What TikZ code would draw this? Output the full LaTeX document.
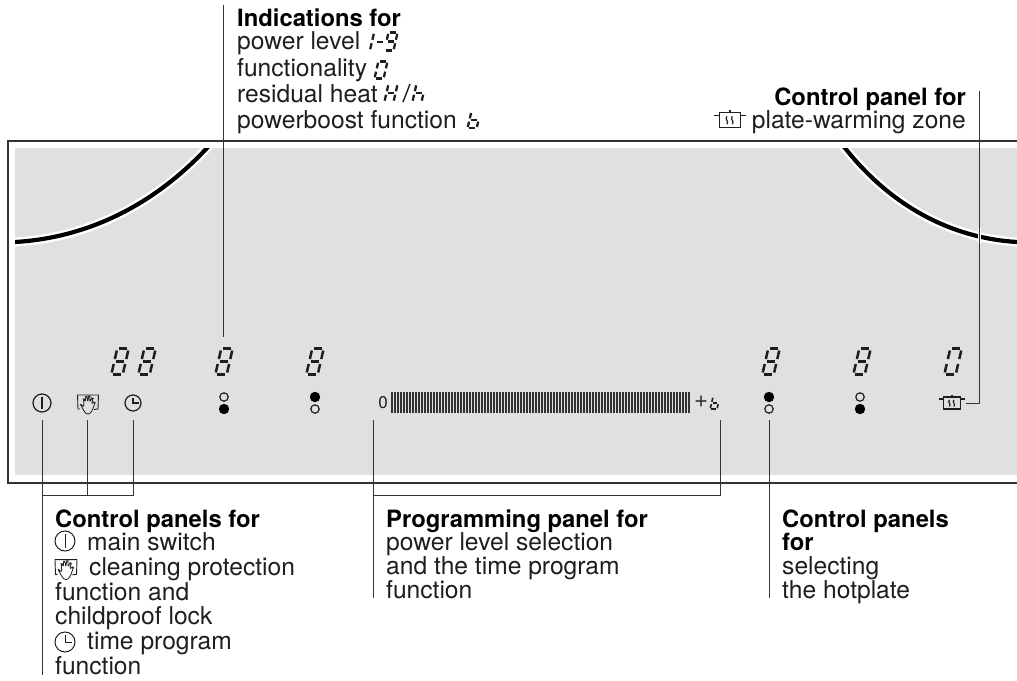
\documentclass[tikz,border=0pt]{standalone}
\usepackage{fontspec}
\setmainfont{TeX Gyre Heros}
\definecolor{panelgray}{HTML}{DFE1E0}
\definecolor{inkc}{HTML}{1E1E1E}
\definecolor{linec}{HTML}{333333}
\tikzset{
  lbl/.style={inner sep=0pt,anchor=base west,text=inkc,font=\fontsize{24.6}{25}\selectfont},
  lblb/.style={inner sep=0pt,anchor=base west,text=black,font=\fontsize{23.8}{25}\selectfont\bfseries},
  frameline/.style={draw=linec,line width=1.2pt},
  conn/.style={draw=linec,line width=1pt},
  seg/.style={draw=inkc,line width=2.5pt},
  icon/.style={draw=inkc,line width=1.2pt},
  halo/.style={white,line width=9pt},
  ring/.style={black,line width=4.2pt},
}
\def\sga{\draw[seg] (-4,-13)--(4,-13);}
\def\sgb{\draw[seg] (5.7,-11)--(5.7,-2.5);}
\def\sgc{\draw[seg] (5.7,2.5)--(5.7,11);}
\def\sgd{\draw[seg] (-4,13)--(4,13);}
\def\sge{\draw[seg] (-5.7,2.5)--(-5.7,11);}
\def\sgf{\draw[seg] (-5.7,-11)--(-5.7,-2.5);}
\def\sgg{\draw[seg] (-4,0)--(4,0);}
% big panel digit
\newcommand\segdigit[3]{\begin{scope}[shift={(#1,#2)},xslant=.23]
  \foreach \s in {#3} {\csname sg\s\endcsname}\end{scope}}
% small digit inside a line of text: x y xscale yscale line-width segments
\newcommand\smalldigit[6]{\begin{scope}[shift={(#1,#2)},xslant=.23,xscale=#3,yscale=#4,seg/.append style={line width=#5}]
  \foreach \s in {#6} {\csname sg\s\endcsname}\end{scope}}
\newcommand\powericon[4]{\begin{scope}[shift={(#1,#2)}]
  \draw[icon,line width=#4] (0,0) circle (#3);
  \draw[icon,line width=#4] (0,-#3*0.72)--(0,#3*0.72);\end{scope}}
\newcommand\clockicon[4]{\begin{scope}[shift={(#1,#2)}]
  \draw[icon,line width=#4] (0,0) circle (#3);
  \draw[icon,line width=#4] (0,-#3*0.68)--(0,0)--(#3*0.72,0);\end{scope}}
\newcommand\handicon[4]{\begin{scope}[shift={(#1,#2)},scale=#3]
  \draw[icon,line width=.9pt] (-8,6)--(-10,6)--(-10.5,-8)--(10.5,-8)--(10,6)--(6,6.5);
  \draw[icon,line width=.8pt,fill=#4,rounded corners=1.2pt] (-8,0.5)--(-4,4)--(-4.5,-4)--(-3.5,-4)--(-2.6,-1)--(-2.3,-6.5)--(-1,-6.5)--(-0.3,-1)--(0.8,-7)--(2,-7)--(1.8,-1)--(4,-5)--(5,-4.5)--(3.5,1)--(6,-1)--(7,-0.3)--(4.5,7)--(1.5,11)--(-1.5,11)--(-4,8)--cycle;
\end{scope}}
\newcommand\poticon[3]{\begin{scope}[shift={(#1,#2)},scale=#3]
  \draw[icon,line width=1.3pt] (-8.5,-6) rectangle (8.5,6);
  \draw[icon,line width=1.3pt] (-13,-4)--(-8.5,-4) (8.5,-4)--(13,-4) (0,-8.5)--(0,-6);
  \draw[icon,line width=1.2pt] (-2.5,-3) .. controls (-5,-1) and (-0.5,1) .. (-2.5,3.5);
  \draw[icon,line width=1.2pt] (2,-3) .. controls (-0.5,-1) and (4,1) .. (2,3.5);
\end{scope}}
\begin{document}
\begin{tikzpicture}[x=1pt,y=-1pt]
\useasboundingbox (0,0) rectangle (1017,680);
% housing and glass
\fill[panelgray] (15,148) rectangle (1017,475);
\begin{scope}
  \clip (15,148) rectangle (1017,475);
  \draw[halo] (5,243)--(15,242) .. controls (85,238) and (152,207) .. (207,148)--(220,134);
  \draw[ring] (5,243)--(15,242) .. controls (85,238) and (152,207) .. (207,148)--(220,134);
  \draw[halo] (835,137)--(845,148) .. controls (890,205) and (950,238) .. (1017,242)--(1030,243);
  \draw[ring] (835,137)--(845,148) .. controls (890,205) and (950,238) .. (1017,242)--(1030,243);
\end{scope}
\draw[frameline] (1017,141)--(8,141)--(8,483)--(1017,483);
\draw[white,line width=3pt] (979,228)--(979,244);
% seven-segment displays
\segdigit{120}{361.5}{a,b,c,d,e,f,g}
\segdigit{147}{361.5}{a,b,c,d,e,f,g}
\segdigit{224}{361.5}{a,b,c,d,e,f,g}
\segdigit{315}{361.5}{a,b,c,d,e,f,g}
\segdigit{771}{361.5}{a,b,c,d,e,f,g}
\segdigit{862}{361.5}{a,b,c,d,e,f,g}
\segdigit{953}{361.5}{a,b,c,d,e,f}
% sensors
\powericon{42}{403}{9}{1.2pt}
\handicon{88}{403}{1}{panelgray}
\clockicon{133}{403}{8}{1.2pt}
\foreach \cx/\oy/\fy in {224/397/409,315/409/397,769/409/397,860/397/409}{
  \draw[icon] (\cx,\oy) circle (4.2);
  \fill[black] (\cx,\fy) circle (5.2);
}
\poticon{952}{403}{1}
% slider
\node[inner sep=0pt,text=inkc,font=\fontsize{17}{17}\selectfont] (zero) at (383,403) {0};
\foreach \i in {0,...,99}{\draw[linec,line width=1.5pt] (392+\i*3,392)--(392+\i*3,413);}
\node[inner sep=0pt,text=linec,font=\fontsize{24}{24}\selectfont] (plus) at (701,402) {+};
\smalldigit{715}{403}{.6}{.48}{1.6pt}{e,f,g,c,d}
% anchors for the connectors
\coordinate (ind0) at (223,5);    \coordinate (ind1) at (223,337);
\coordinate (war0) at (979,91);   \coordinate (war1) at (979,403);   \coordinate (war2) at (966,403);
\coordinate (pow) at (42,420);    \coordinate (powe) at (42,675);    \coordinate (powj) at (42,495);
\coordinate (han) at (87,420);    \coordinate (hanj) at (87,495);
\coordinate (clo) at (133,420);   \coordinate (cloj) at (133,495);
\coordinate (pr0) at (373,420);   \coordinate (pre) at (373,598);    \coordinate (prj) at (373,495);
\coordinate (prb) at (720,420);   \coordinate (prbj) at (720,495);
\coordinate (hot) at (769,420);   \coordinate (hote) at (769,598);
\draw[conn] (ind0)--(ind1);
\draw[conn] (war0)--(war1)--(war2);
\draw[conn] (pow)--(powe);
\draw[conn] (han)--(hanj);
\draw[conn] (clo)--(cloj)--(powj);
\draw[conn] (pr0)--(pre);
\draw[conn] (prb)--(prbj)--(prj);
\draw[conn] (hot)--(hote);
% indications
\node[lblb] (i0) at (237,27) {Indications for};
\node[lbl] (i1) at (237,49) {power level};
\node[lbl] (i2) at (237,76) {functionality};
\node[lbl] (i3) at (237,102) {residual heat};
\node[lbl] (i4) at (237,128) {powerboost function};
\smalldigit{368}{41.5}{.7}{.7}{2.3pt}{b,c}
\draw[seg,line width=1.8pt] (377,42)--(383,42);
\smalldigit{391}{41.5}{.8}{.7}{2.3pt}{a,b,c,d,f,g}
\smalldigit{381}{70}{.8}{.66}{2.3pt}{a,b,c,d,e,f}
\smalldigit{391}{93}{.8}{.7}{2.3pt}{b,c,e,f,g}
\draw[inkc,line width=1.4pt] (403,102)--(410,84);
\smalldigit{419}{93}{.8}{.7}{2.3pt}{c,e,f,g}
\smalldigit{474}{120}{.8}{.64}{2.3pt}{c,d,e,f,g}
% plate warming
\node[lblb,anchor=base east] (w0) at (966,105) {Control panel for};
\node[lbl,anchor=base east] (w1) at (966,128) {plate-warming zone};
\poticon{730}{120}{1.2}
% control panels
\node[lblb] (c0) at (55,527) {Control panels for};
\powericon{65}{541}{10}{1pt}
\node[lbl] (c1) at (87,550) {main switch};
\handicon{66}{568}{1.05}{white}
\node[lbl] (c2) at (89,575) {cleaning protection};
\node[lbl] (c3) at (55,600) {function and};
\node[lbl] (c4) at (55,624) {childproof lock};
\clockicon{65}{642}{10}{1pt}
\node[lbl] (c5) at (87,649) {time program};
\node[lbl] (c6) at (55,674) {function};
% programming panel
\node[lblb] (p0) at (386,527) {Programming panel for};
\node[lbl] (p1) at (386,550) {power level selection};
\node[lbl] (p2) at (386,574) {and the time program};
\node[lbl] (p3) at (386,598) {function};
% hotplate selection
\node[lblb] (h0) at (782,527) {Control panels};
\node[lblb] (h1) at (782,550) {for};
\node[lbl] (h2) at (782,574) {selecting};
\node[lbl] (h3) at (782,598) {the hotplate};
\end{tikzpicture}
\end{document}
